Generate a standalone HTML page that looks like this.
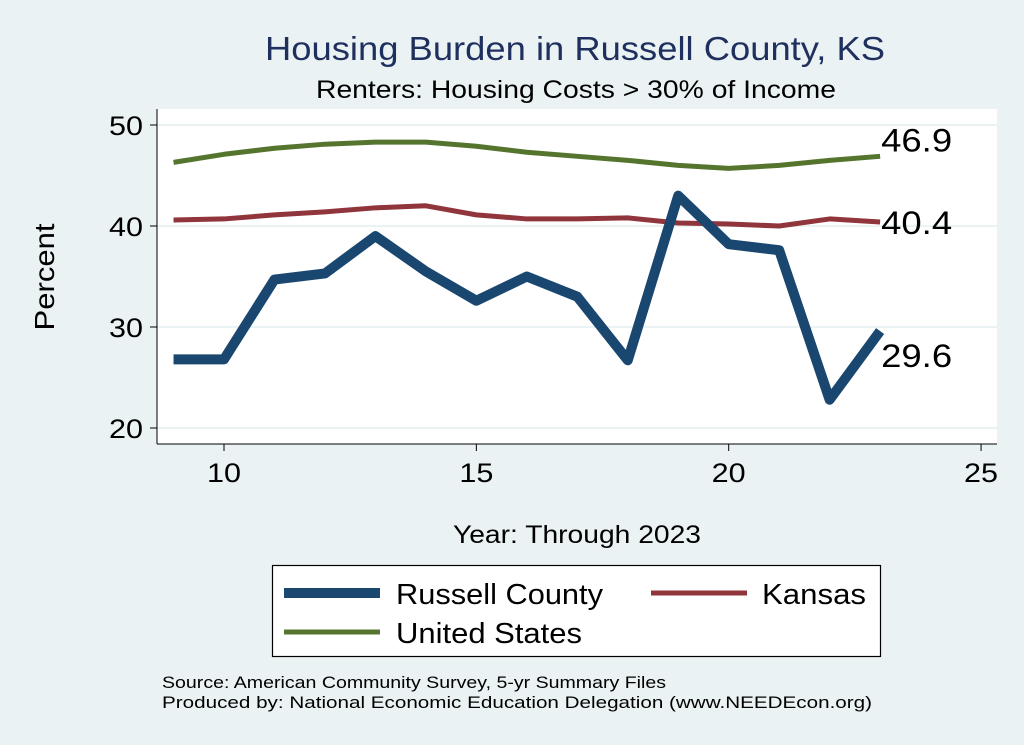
<!DOCTYPE html>
<html><head><meta charset="utf-8"><style>
body{margin:0;background:#eaf2f3;}
svg{display:block;font-family:"Liberation Sans",Arial,sans-serif;}
</style></head><body>
<svg width="1024" height="745" viewBox="0 0 1024 745">
<rect x="0" y="0" width="1024" height="745" fill="#eaf2f3"/>
<text x="265" y="60" textLength="620" lengthAdjust="spacingAndGlyphs" font-size="33" fill="#1f2f5e">Housing Burden in Russell County, KS</text>
<text x="316" y="98" textLength="520" lengthAdjust="spacingAndGlyphs" font-size="25" fill="#000">Renters: Housing Costs &gt; 30% of Income</text>
<rect x="157" y="109" width="840" height="335" fill="#fff"/>
<g id="grid"></g>
<g id="axes"></g>
<g id="series"></g>
<text x="54" y="277" text-anchor="middle" font-size="28" textLength="107" lengthAdjust="spacingAndGlyphs" transform="rotate(-90 54 277)">Percent</text>
<text x="453" y="543" textLength="248" lengthAdjust="spacingAndGlyphs" font-size="25">Year: Through 2023</text>
<g>
<rect x="272.5" y="565.5" width="608" height="91" fill="#fff" stroke="#000" stroke-width="1.2"/>
<line x1="284" y1="593" x2="380" y2="593" stroke="#1a476f" stroke-width="10"/>
<text x="396" y="604" textLength="207" lengthAdjust="spacingAndGlyphs" font-size="29">Russell County</text>
<line x1="651" y1="593" x2="747" y2="593" stroke="#90353b" stroke-width="5"/>
<text x="762" y="604" textLength="104" lengthAdjust="spacingAndGlyphs" font-size="29">Kansas</text>
<line x1="284" y1="632" x2="380" y2="632" stroke="#55752f" stroke-width="5"/>
<text x="396" y="643" textLength="186" lengthAdjust="spacingAndGlyphs" font-size="29">United States</text>
</g>
<text x="162" y="688" textLength="504" lengthAdjust="spacingAndGlyphs" font-size="17">Source: American Community Survey, 5-yr Summary Files</text>
<text x="162" y="708" textLength="710" lengthAdjust="spacingAndGlyphs" font-size="17">Produced by: National Economic Education Delegation (www.NEEDEcon.org)</text>
</svg>
<script>
const years=[9,10,11,12,13,14,15,16,17,18,19,20,21,22,23];
const russell=[26.8,26.8,34.7,35.3,39,35.5,32.6,35,33,26.7,43,38.2,37.6,22.8,29.6];
const kansas=[40.6,40.7,41.1,41.4,41.8,42,41.1,40.7,40.7,40.8,40.3,40.2,40,40.7,40.4];
const us=[46.3,47.1,47.7,48.1,48.3,48.3,47.9,47.3,46.9,46.5,46,45.7,46,46.5,46.9];
const xTicks=[10,15,20,25];
const yTicks=[20,30,40,50];
const NS='http://www.w3.org/2000/svg';
function X(v){return 224+(v-10)*50.47;}
function Y(v){return 125+(50-v)*10.1;}
function mk(t,a,p){const e=document.createElementNS(NS,t);for(const k in a)e.setAttribute(k,a[k]);p.appendChild(e);return e;}
const grid=document.getElementById('grid'),axes=document.getElementById('axes'),ser=document.getElementById('series');
yTicks.forEach(v=>{
 const g=mk('line',{x1:157,x2:997,y1:Y(v),y2:Y(v),stroke:'#eaf2f3','stroke-width':2},grid);
 
 
 const t=mk('line',{x1:150,x2:157,y1:Y(v),y2:Y(v),stroke:'#000','stroke-width':1},axes);
 
 
 const l=mk('text',{x:143,y:Y(v)+10,'text-anchor':'end','font-size':27,textLength:34,lengthAdjust:'spacingAndGlyphs'},axes);
 l.textContent=v;
 
 
});
xTicks.forEach(v=>{
 const t=mk('line',{x1:X(v),x2:X(v),y1:444,y2:451,stroke:'#000','stroke-width':1},axes);
 
 
 const l=mk('text',{x:X(v)-17,y:482,'font-size':27,textLength:34,lengthAdjust:'spacingAndGlyphs'},axes);
 l.textContent=v;
 
 
});
const ya=mk('line',{x1:157,x2:157,y1:109,y2:444,stroke:'#000','stroke-width':1},axes);


const xa=mk('line',{x1:157,x2:997,y1:444,y2:444,stroke:'#000','stroke-width':1},axes);


function line(vals,color,w,name,dy){
 const pts=vals.map((v,i)=>X(years[i])+','+Y(v)).join(' ');
 const p=mk('polyline',{points:pts,fill:'none',stroke:color,'stroke-width':w,'stroke-linejoin':'round'},ser);
 
 
 const last=vals[vals.length-1];
 const t=mk('text',{x:X(years[years.length-1])+1,y:Y(last)+dy,'font-size':32,textLength:71,lengthAdjust:'spacingAndGlyphs'},ser);
 t.textContent=last.toFixed(1);
 
 
}
line(us,'#55752f',5,'us',-5);
line(kansas,'#90353b',5,'kansas',12);
line(russell,'#1a476f',10,'russell',36);
</script>
</body></html>
